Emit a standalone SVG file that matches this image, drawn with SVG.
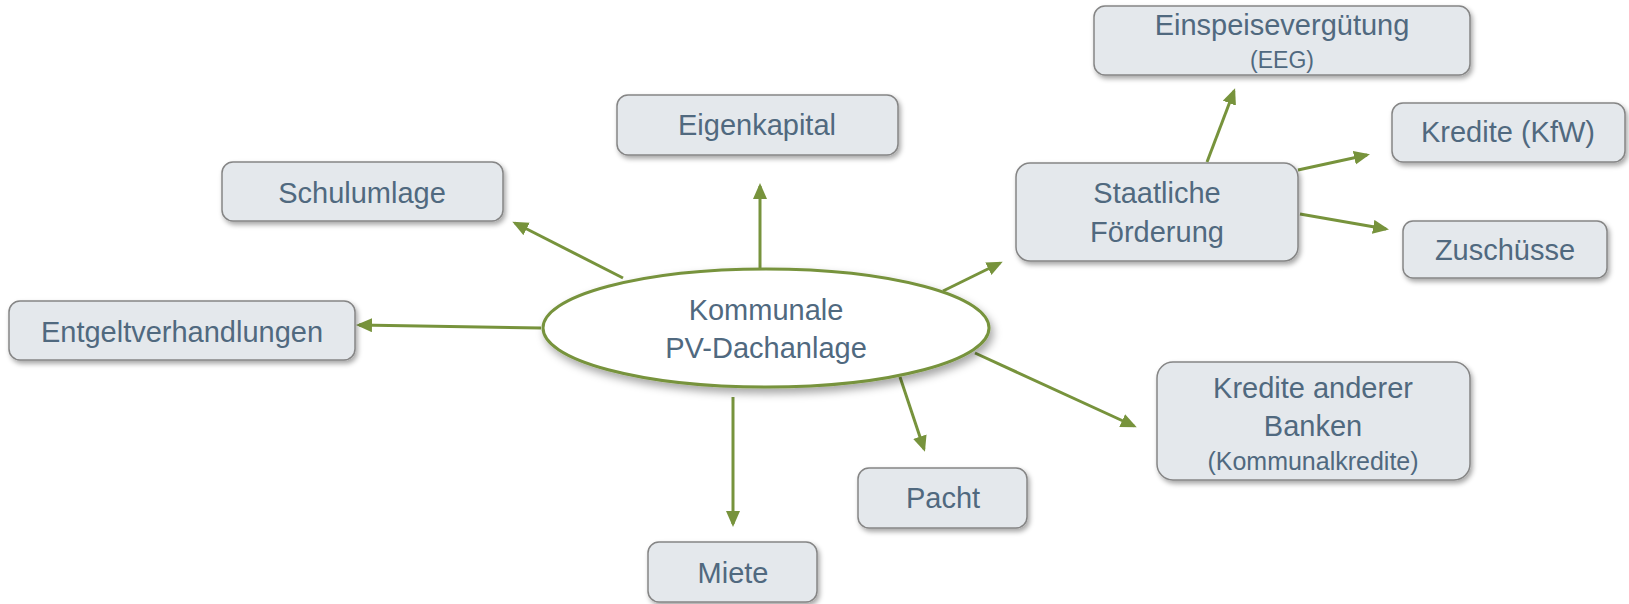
<svg xmlns="http://www.w3.org/2000/svg" width="1629" height="604" viewBox="0 0 1629 604">
<style>
.box{fill:#e4e8ec;stroke:#858585;stroke-width:1.5}
.t{font-family:"Liberation Sans",Arial,sans-serif;font-size:29px;fill:#50697f;text-anchor:middle}
.s{font-size:23px}
.k{font-size:25px}
.c{stroke:#77933c;stroke-width:3;fill:none;marker-end:url(#ah)}
</style>
<defs>
<marker id="ah" markerUnits="userSpaceOnUse" markerWidth="18" markerHeight="16" refX="13" refY="7" orient="auto">
<path d="M0,0 L16,7 L0,14 z" fill="#77933c"/>
</marker>
<filter id="sh" x="-10%" y="-10%" width="125%" height="135%">
<feDropShadow dx="2" dy="3" stdDeviation="2.5" flood-color="#000" flood-opacity="0.35"/>
</filter>
<filter id="esh" x="-10%" y="-10%" width="120%" height="135%">
<feDropShadow dx="3" dy="5" stdDeviation="4" flood-color="#000" flood-opacity="0.35"/>
</filter>
</defs>
<rect width="1629" height="604" fill="#fff"/>
<g id="connectors">
<line class="c" x1="943" y1="291" x2="1000" y2="263"/>
<line class="c" x1="1207" y1="162" x2="1234" y2="91"/>
<line class="c" x1="1298" y1="170" x2="1367" y2="155"/>
<line class="c" x1="1300" y1="214" x2="1386" y2="229"/>
<line class="c" x1="760" y1="270" x2="760" y2="186"/>
<line class="c" x1="623" y1="278" x2="515" y2="223"/>
<line class="c" x1="541" y1="328" x2="359" y2="325"/>
<line class="c" x1="733" y1="397" x2="733" y2="524"/>
<line class="c" x1="900" y1="377" x2="924" y2="449"/>
<line class="c" x1="975" y1="353" x2="1134" y2="426"/>
</g>
<g id="center">
<ellipse cx="766" cy="328" rx="223" ry="59" fill="#fff" stroke="#77933c" stroke-width="3" filter="url(#esh)"/>
<text class="t" x="766" y="320">Kommunale</text>
<text class="t" x="766" y="358">PV-Dachanlage</text>
</g>
<g id="einspeise">
<rect class="box" x="1094" y="6" width="376" height="69" rx="11" filter="url(#sh)"/>
<text class="t" x="1282" y="35">Einspeisevergütung</text>
<text class="t s" x="1282" y="68">(EEG)</text>
</g>
<g id="eigenkapital">
<rect class="box" x="617" y="95" width="281" height="60" rx="11" filter="url(#sh)"/>
<text class="t" x="757" y="135">Eigenkapital</text>
</g>
<g id="kfw">
<rect class="box" x="1392" y="103" width="233" height="59" rx="11" filter="url(#sh)"/>
<text class="t" x="1508" y="142">Kredite (KfW)</text>
</g>
<g id="staatlich">
<rect class="box" x="1016" y="163" width="282" height="98" rx="14" filter="url(#sh)"/>
<text class="t" x="1157" y="203">Staatliche</text>
<text class="t" x="1157" y="242">Förderung</text>
</g>
<g id="zuschuesse">
<rect class="box" x="1403" y="221" width="204" height="57" rx="10" filter="url(#sh)"/>
<text class="t" x="1505" y="260">Zuschüsse</text>
</g>
<g id="schulumlage">
<rect class="box" x="222" y="162" width="281" height="59" rx="11" filter="url(#sh)"/>
<text class="t" x="362" y="203">Schulumlage</text>
</g>
<g id="entgelt">
<rect class="box" x="9" y="301" width="346" height="59" rx="11" filter="url(#sh)"/>
<text class="t" x="182" y="342">Entgeltverhandlungen</text>
</g>
<g id="banken">
<rect class="box" x="1157" y="362" width="313" height="118" rx="16" filter="url(#sh)"/>
<text class="t" x="1313" y="398">Kredite anderer</text>
<text class="t" x="1313" y="436">Banken</text>
<text class="t k" x="1313" y="470">(Kommunalkredite)</text>
</g>
<g id="pacht">
<rect class="box" x="858" y="468" width="169" height="60" rx="11" filter="url(#sh)"/>
<text class="t" x="943" y="508">Pacht</text>
</g>
<g id="miete">
<rect class="box" x="648" y="542" width="169" height="60" rx="11" filter="url(#sh)"/>
<text class="t" x="733" y="583">Miete</text>
</g>
</svg>
